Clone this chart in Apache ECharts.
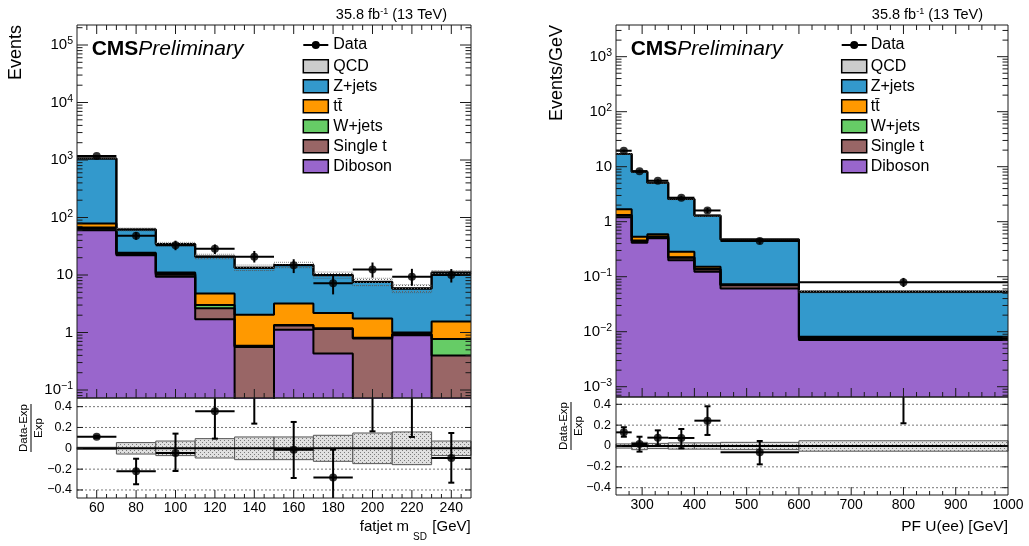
<!DOCTYPE html>
<html>
<head>
<meta charset="utf-8">
<title>CMS Preliminary</title>
<script src="https://cdn.jsdelivr.net/npm/echarts@6.0.0/dist/echarts.min.js"></script>
<style>
html,body{margin:0;padding:0;background:#ffffff;}
#chart{width:1029px;height:546px;}
</style>
</head>
<body>
<div id="chart"></div>
<script>
// ===================== DATA =====================
// ---- left panel: fatjet m_SD ----
const msdEdges   = [50, 70, 90, 110, 130, 150, 170, 190, 210, 230, 250];
const msdDiboson = [60, 22, 9.3, 1.7, 0.03, 1.12, 0.43, 0.02, 0.9, 0.02];
const msdSingleT = [4, 1.0, 0.8, 0.95, 0.53, 0.2, 0.72, 0.77, 0.03, 0.38];
const msdWjets   = [3, 0.6, 0.4, 0.37, 0.03, 0.03, 0.03, 0.02, 0.02, 0.37];
const msdTT      = [12, 0.8, 0.6, 1.75, 1.45, 1.85, 1.0, 0.95, 0.05, 0.79];
const msdZjets   = [985.5, 37.4, 23.3, 16.1, 11.3, 11.7, 7.7, 5.8, 4.78, 9.4];
const msdQCD     = [0.5, 0.2, 0.1, 0.13, 0.09, 0.1, 0.12, 0.09, 0.08, 0.14];
const msdData    = [1180, 48.4, 33, 28.5, 20.8, 14.8, 7.2, 12.5, 9.35, 10.0];
const msdDataLo  = [1150, 41, 27, 23.2, 16.5, 10.8, 4.6, 9.0, 6.5, 7.4];
const msdDataHi  = [1210, 56, 39.5, 34, 26.2, 18.8, 9.9, 16.5, 12.8, 12.7];
const msdUnc     = [0.01, 0.055, 0.07, 0.093, 0.109, 0.109, 0.125, 0.147, 0.157, 0.07];
const msdRatio   = [0.11, -0.22, -0.045, 0.355, 0.55, -0.013, -0.28, 0.64, 0.59, -0.093];
const msdRatioLo = [0.10, -0.345, -0.218, 0.093, 0.237, -0.285, -0.55, 0.163, 0.109, -0.33];
const msdRatioHi = [0.12, -0.10, 0.141, 0.62, 0.86, 0.253, -0.013, 1.1, 1.05, 0.147];

// ---- right panel: PF U(ee) ----
const uEdges   = [250, 280, 310, 350, 400, 450, 600, 1000];
const uDiboson = [1.2, 0.415, 0.5, 0.2, 0.123, 0.061, 0.00706];
const uSingleT = [0.11, 0.03, 0.03, 0.02, 0.012, 0.009, 0.0005];
const uWjets   = [0.02, 0.01, 0.01, 0.005, 0.003, 0.001, 0.0002];
const uTT      = [0.35, 0.078, 0.05, 0.06, 0.014, 0.002, 0.0003];
const uZjets   = [15.3, 7.56, 4.52, 2.3, 1.135, 0.4, 0.0452];
const uQCD     = [0.02, 0.01, 0.01, 0.005, 0.003, 0.001, 0.0001];
const uData    = [19.5, 8.3, 5.56, 2.73, 1.6, 0.446, 0.079];
const uDataLo  = [18.6, 7.75, 5.2, 2.5, 1.43, 0.39, 0.065];
const uDataHi  = [20.4, 8.85, 5.92, 2.96, 1.78, 0.5, 0.095];
const uUnc     = [0.02, 0.035, 0.025, 0.03, 0.03, 0.035, 0.05];
const uRatio   = [0.131, 0.019, 0.08, 0.077, 0.243, -0.061, 0.48];
const uRatioLo = [0.089, -0.054, 0.007, -0.022, 0.106, -0.176, 0.218];
const uRatioHi = [0.18, 0.089, 0.15, 0.163, 0.381, 0.048, 0.75];

// ---- tick labels ----
const msdTickLabels   = [60, 80, 100, 120, 140, 160, 180, 200, 220, 240];
const uTickLabels     = [300, 400, 500, 600, 700, 800, 900, 1000];
const msdLogLabels    = [-1, 0, 1, 2, 3, 4, 5];      // powers of ten
const uLogLabels      = [-3, -2, -1, 0, 1, 2, 3];
const ratioTickLabels = [-0.4, -0.2, 0, 0.2, 0.4];
const legendNames     = ['Data', 'QCD', 'Z+jets', 't\u0074\u0304', 'W+jets', 'Single t', 'Diboson'];

// ===================== STYLE =====================
const FONT = '"Liberation Sans", Arial, Helvetica, sans-serif';
const COL = {QCD:'#cccccc', Z:'#3399cc', TT:'#ff9900', W:'#66cc66', ST:'#996666', DB:'#9966cc'};
const legendColors = [null, COL.QCD, COL.Z, COL.TT, COL.W, COL.ST, COL.DB];

function makePattern(bg, dot, size, pts) {
  const c = document.createElement('canvas');
  c.width = size; c.height = size;
  const g = c.getContext('2d');
  if (bg) { g.fillStyle = bg; g.fillRect(0, 0, size, size); }
  g.fillStyle = dot;
  pts.forEach(p => g.fillRect(p[0], p[1], 1, 1));
  return {image: c, repeat: 'repeat'};
}
const ratioPattern = makePattern('#e0e0e0', '#7a7a7a', 4, [[0,0],[2,2]]);
const mainPattern  = makePattern(null, '#666666', 3, [[0,0]]);

function range(a, b, s) { const r = []; for (let v = a; v <= b + 1e-9; v += s) r.push(+v.toFixed(6)); return r; }
function logMinors(lo, hi) {
  const r = [];
  for (let n = Math.floor(lo); n <= Math.ceil(hi); n++)
    for (let k = 2; k <= 9; k++) { const v = n + Math.log10(k); if (v > lo && v < hi) r.push(v); }
  return r;
}

// ===================== BUILDERS =====================
function errSeries(ai, rows, ymin, ymax, caps, z) {
  return {
    type: 'custom', xAxisIndex: ai, yAxisIndex: ai, z: z, silent: true, clip: false,
    data: rows, encode: {x: [0, 1], y: [3]},
    renderItem: (params, api) => {
      const xlo = api.value(0), xhi = api.value(1), xc = api.value(2);
      const y = api.value(3), ylo = api.value(4), yhi = api.value(5);
      const ch = [];
      const st = {stroke: '#000', lineWidth: 2};
      const L = (p, q) => ch.push({type: 'line', shape: {x1: p[0], y1: p[1], x2: q[0], y2: q[1]}, style: st});
      if (y >= ymin && y <= ymax) L(api.coord([xlo, y]), api.coord([xhi, y]));
      const lo = Math.max(ymin, ylo), hi = Math.min(ymax, yhi);
      if (hi > lo) {
        const p = api.coord([xc, lo]), q = api.coord([xc, hi]);
        L(p, q);
        if (caps) {
          if (ylo >= ymin) L([p[0] - 3, p[1]], [p[0] + 3, p[1]]);
          if (yhi <= ymax) L([q[0] - 3, q[1]], [q[0] + 3, q[1]]);
        }
      }
      return {type: 'group', children: ch};
    }
  };
}

function frameSeries(ai, F) {
  return {
    type: 'custom', xAxisIndex: ai, yAxisIndex: ai, z: 20, silent: true, clip: false,
    data: [[F.xmin, F.ymin]],
    renderItem: (params, api) => {
      const bl = api.coord([F.xmin, F.ymin]), tr = api.coord([F.xmax, F.ymax]);
      const Lx = bl[0], B = bl[1], R = tr[0], T = tr[1];
      const ch = [];
      const st = {stroke: '#1a1a1a', lineWidth: 1};
      const ln = (x1, y1, x2, y2) => ch.push({type: 'line', shape: {x1, y1, x2, y2}, style: st});
      ln(Lx, T, R, T); ln(Lx, B, R, B); ln(Lx, T, Lx, B); ln(R, T, R, B);
      const xt = (vals, len) => vals.forEach(v => {
        const x = api.coord([v, F.ymin])[0];
        if (F.bottom) ln(x, B, x, B - len);
        if (F.top) ln(x, T, x, T + len);
      });
      const yt = (vals, len) => vals.forEach(v => {
        const y = api.coord([F.xmin, v])[1];
        ln(Lx, y, Lx + len, y); ln(R, y, R - len, y);
      });
      xt(F.xMajor, F.xMajLen); xt(F.xMinor, F.xMinLen);
      yt(F.yMajor, F.yMajLen); yt(F.yMinor, F.yMinLen);
      return {type: 'group', children: ch};
    }
  };
}

function ratioGridSeries(ai, xmin, xmax, lines) {
  return {
    type: 'custom', xAxisIndex: ai, yAxisIndex: ai, z: 3, silent: true, clip: false,
    data: [[xmin, 0]],
    renderItem: (params, api) => {
      const ch = [];
      lines.forEach(v => {
        const p = api.coord([xmin, v]), q = api.coord([xmax, v]);
        const zero = Math.abs(v) < 1e-9;
        ch.push({type: 'line', shape: {x1: p[0], y1: p[1], x2: q[0], y2: q[1]},
          style: zero ? {stroke: '#000', lineWidth: 2} : {stroke: '#777', lineWidth: 1, lineDash: [2, 2]}});
      });
      return {type: 'group', children: ch};
    }
  };
}

function buildPanel(P) {
  const series = [];
  const nb = P.edges.length - 1;
  const comps = [
    {name: 'Diboson', v: P.diboson, c: COL.DB},
    {name: 'Single t', v: P.singleT, c: COL.ST},
    {name: 'W+jets', v: P.wjets, c: COL.W},
    {name: 'ttbar', v: P.tt, c: COL.TT},
    {name: 'Z+jets', v: P.zjets, c: COL.Z},
    {name: 'QCD', v: P.qcd, c: COL.QCD}
  ];
  const cum = [];
  let run = new Array(nb).fill(0);
  comps.forEach(cp => { run = run.map((r, i) => r + cp.v[i]); cum.push(run.slice()); });
  const total = cum[cum.length - 1];
  const toLog = v => v > 0 ? Math.log10(v) : P.ymin - 3;
  const centers = P.edges.slice(0, -1).map((e, i) => (e + P.edges[i + 1]) / 2);

  for (let k = comps.length - 1; k >= 0; k--) {
    const d = [];
    for (let i = 0; i < nb; i++) d.push([P.edges[i], toLog(cum[k][i])]);
    d.push([P.edges[nb], toLog(cum[k][nb - 1])]);
    series.push({
      type: 'line', name: comps[k].name, xAxisIndex: P.mi, yAxisIndex: P.mi,
      data: d, step: 'end', symbol: 'none', showSymbol: false, clip: true, silent: true, z: 2,
      lineStyle: {color: '#000', width: 2},
      areaStyle: {color: comps[k].c, opacity: 1, origin: 'start'}
    });
  }
  // stat. uncertainty band on the total
  const band = total.map((t, i) => [P.edges[i], P.edges[i + 1], toLog(t * (1 - P.unc[i])), toLog(t * (1 + P.unc[i]))]);
  series.push({
    type: 'custom', xAxisIndex: P.mi, yAxisIndex: P.mi, z: 3, silent: true, data: band, encode: {x: [0, 1], y: [2, 3]},
    renderItem: (params, api) => {
      const a = api.coord([api.value(0), api.value(3)]), b = api.coord([api.value(1), api.value(2)]);
      return {type: 'rect', shape: {x: a[0], y: a[1], width: b[0] - a[0], height: b[1] - a[1]},
        style: {fill: mainPattern, stroke: 'rgba(80,80,80,0.7)', lineWidth: 1, lineDash: [1, 1]}};
    }
  });
  // data
  const rows = P.data.map((v, i) => [P.edges[i], P.edges[i + 1], centers[i], toLog(v), toLog(P.dataLo[i]), toLog(P.dataHi[i])]);
  series.push(errSeries(P.mi, rows, P.ymin, P.ymax, false, 5));
  series.push({type: 'scatter', xAxisIndex: P.mi, yAxisIndex: P.mi, z: 6, silent: true, clip: true,
    symbol: 'circle', symbolSize: 8, itemStyle: {color: '#000'},
    data: P.data.map((v, i) => [centers[i], toLog(v)])});
  series.push(frameSeries(P.mi, {xmin: P.xmin, xmax: P.xmax, ymin: P.ymin, ymax: P.ymax, top: true, bottom: true,
    xMajor: P.xMajor, xMinor: P.xMinor, xMajLen: 9, xMinLen: 5,
    yMajor: P.logLabels, yMinor: logMinors(P.ymin, P.ymax), yMajLen: 11, yMinLen: 5.5}));

  // ratio pad
  const rband = P.unc.map((u, i) => [P.edges[i], P.edges[i + 1], -u, u]);
  series.push({
    type: 'custom', xAxisIndex: P.ri, yAxisIndex: P.ri, z: 2, silent: true, data: rband, encode: {x: [0, 1], y: [2, 3]},
    renderItem: (params, api) => {
      const a = api.coord([api.value(0), api.value(3)]), b = api.coord([api.value(1), api.value(2)]);
      return {type: 'rect', shape: {x: a[0], y: a[1], width: b[0] - a[0], height: Math.max(1, b[1] - a[1])},
        style: {fill: ratioPattern, stroke: '#555', lineWidth: 1}};
    }
  });
  series.push(ratioGridSeries(P.ri, P.xmin, P.xmax, P.ratioLabels));
  const rrows = P.ratio.map((v, i) => [P.edges[i], P.edges[i + 1], centers[i], v, P.ratioLo[i], P.ratioHi[i]]);
  series.push(errSeries(P.ri, rrows, P.rmin, P.rmax, true, 5));
  series.push({type: 'scatter', xAxisIndex: P.ri, yAxisIndex: P.ri, z: 6, silent: true, clip: true,
    symbol: 'circle', symbolSize: 8, itemStyle: {color: '#000'},
    data: P.ratio.map((v, i) => [centers[i], v])});
  series.push(frameSeries(P.ri, {xmin: P.xmin, xmax: P.xmax, ymin: P.rmin, ymax: P.rmax, top: false, bottom: true,
    xMajor: P.xMajor, xMinor: P.xMinor, xMajLen: 8, xMinLen: 4,
    yMajor: P.ratioLabels, yMinor: [], yMajLen: 6, yMinLen: 3}));
  return series;
}

// ===================== AXES =====================
function logFmt(v) {
  const n = Math.round(v);
  if (n === 0) return '{b|1}';
  if (n === 1) return '{b|10}';
  return '{b|10}{s|' + (n < 0 ? '\u2212' : '') + Math.abs(n) + '}';
}
function ratioFmt(v) {
  if (Math.abs(v) < 1e-9) return '0';
  return (v < 0 ? '\u2212' : '') + Math.abs(v).toFixed(1);
}
const baseAx = {type: 'value', axisLine: {show: false}, axisTick: {show: false}, splitLine: {show: false}};
function xAx(gi, min, max, labels) {
  return Object.assign({}, baseAx, {gridIndex: gi, min, max, position: 'bottom',
    axisLabel: labels ? {show: true, customValues: labels, fontSize: 14, color: '#000', margin: 3, fontFamily: FONT,
      formatter: v => String(v)} : {show: false}});
}
function yLogAx(gi, min, max, labels) {
  return Object.assign({}, baseAx, {gridIndex: gi, min, max, position: 'left',
    axisLabel: {show: true, customValues: labels, color: '#000', margin: 4, fontFamily: FONT, formatter: logFmt,
      rich: {b: {fontSize: 15, lineHeight: 18, fontFamily: FONT, color: '#000'},
             s: {fontSize: 10.5, lineHeight: 11, verticalAlign: 'top', fontFamily: FONT, color: '#000'}}}});
}
function yRatioAx(gi, min, max, labels) {
  return Object.assign({}, baseAx, {gridIndex: gi, min, max, position: 'left',
    axisLabel: {show: true, customValues: labels, fontSize: 12.5, color: '#000', margin: 5, fontFamily: FONT, formatter: ratioFmt}});
}

// ===================== PANELS =====================
const LP = {
  mi: 0, ri: 1, edges: msdEdges, xmin: 50, xmax: 250, ymin: -1.139, ymax: 5.348, rmin: -0.477, rmax: 0.483,
  diboson: msdDiboson, singleT: msdSingleT, wjets: msdWjets, tt: msdTT, zjets: msdZjets, qcd: msdQCD,
  data: msdData, dataLo: msdDataLo, dataHi: msdDataHi, unc: msdUnc,
  ratio: msdRatio, ratioLo: msdRatioLo, ratioHi: msdRatioHi,
  xMajor: msdTickLabels, xMinor: range(55, 245, 5).filter(v => v % 20 !== 0),
  logLabels: msdLogLabels, ratioLabels: ratioTickLabels
};
const RP = {
  mi: 2, ri: 3, edges: uEdges, xmin: 250, xmax: 1000, ymin: -3.187, ymax: 3.576, rmin: -0.47, rmax: 0.47,
  diboson: uDiboson, singleT: uSingleT, wjets: uWjets, tt: uTT, zjets: uZjets, qcd: uQCD,
  data: uData, dataLo: uDataLo, dataHi: uDataHi, unc: uUnc,
  ratio: uRatio, ratioLo: uRatioLo, ratioHi: uRatioHi,
  xMajor: uTickLabels.filter(v => v < 1000), xMinor: range(275, 975, 25).filter(v => v % 100 !== 0),
  logLabels: uLogLabels, ratioLabels: ratioTickLabels
};

// ===================== GRAPHIC (texts / legend) =====================
function legend(bx, tx) {
  const els = [];
  const rowY = [45, 66.3, 86.3, 106.3, 126.3, 146.3, 166.3];
  legendNames.forEach((name, i) => {
    const y = rowY[i];
    if (i === 0) {
      els.push({type: 'line', shape: {x1: bx, y1: y, x2: bx + 25, y2: y}, style: {stroke: '#000', lineWidth: 2}});
      els.push({type: 'circle', shape: {cx: bx + 12.5, cy: y, r: 4}, style: {fill: '#000'}});
    } else {
      els.push({type: 'rect', shape: {x: bx, y: y - 6.5, width: 25, height: 13}, style: {fill: legendColors[i], stroke: '#000', lineWidth: 1.5}});
    }
    els.push({type: 'text', x: tx, y: y, style: {text: name, fontSize: 16, fontFamily: FONT, fill: '#000', align: 'left', verticalAlign: 'middle'}});
  });
  return els;
}
function cmsText(x) {
  return {type: 'text', x: x, y: 49, style: {text: '{b|CMS}{i|Preliminary}', fontFamily: FONT, verticalAlign: 'middle', align: 'left',
    rich: {b: {fontSize: 21, fontWeight: 'bold', fontFamily: FONT, fill: '#000'}, i: {fontSize: 21, fontStyle: 'italic', fontFamily: FONT, fill: '#000'}}}};
}
function lumiText(xr) {
  return {type: 'text', x: xr, y: 15, style: {text: '{a|35.8 fb}{s|-1}{a| (13 TeV)}', align: 'right', verticalAlign: 'middle',
    rich: {a: {fontSize: 14.5, lineHeight: 16, fontFamily: FONT, fill: '#000'}, s: {fontSize: 9, lineHeight: 9, verticalAlign: 'top', fontFamily: FONT, fill: '#000'}}}};
}
function yTitle(x, text) {
  return {type: 'text', x: x, y: 25, rotation: Math.PI / 2,
    style: {text: text, fontSize: 18, fontFamily: FONT, fill: '#000', align: 'right', verticalAlign: 'middle'}};
}
function ratioTitle(x, y) {
  return {type: 'group', x: x, y: y, rotation: Math.PI / 2, children: [
    {type: 'text', x: 0, y: -1.5, style: {text: 'Data-Exp', fontSize: 11.5, fontFamily: FONT, fill: '#000', align: 'center', verticalAlign: 'bottom'}},
    {type: 'line', shape: {x1: -24, y1: 0, x2: 24, y2: 0}, style: {stroke: '#000', lineWidth: 1}},
    {type: 'text', x: 0, y: 1.5, style: {text: 'Exp', fontSize: 11.5, fontFamily: FONT, fill: '#000', align: 'center', verticalAlign: 'top'}}
  ]};
}
const graphics = [].concat(
  legend(303.3, 333.3), legend(841.7, 870.7),
  [cmsText(91.7), cmsText(630.7), lumiText(447), lumiText(983),
   yTitle(16, 'Events'), yTitle(556.7, 'Events/GeV'),
   ratioTitle(31, 428), ratioTitle(571, 426),
   {type: 'text', x: 409, y: 527, style: {text: 'fatjet m', fontSize: 15, fontFamily: FONT, fill: '#000', align: 'right', verticalAlign: 'middle'}},
   {type: 'text', x: 413, y: 537, style: {text: 'SD', fontSize: 10, fontFamily: FONT, fill: '#000', align: 'left', verticalAlign: 'middle'}},
   {type: 'text', x: 470.7, y: 527, style: {text: '[GeV]', fontSize: 15, fontFamily: FONT, fill: '#000', align: 'right', verticalAlign: 'middle'}},
   {type: 'text', x: 1008, y: 527, style: {text: 'PF U(ee) [GeV]', fontSize: 15.5, fontFamily: FONT, fill: '#000', align: 'right', verticalAlign: 'middle'}}
  ]
);

// ===================== OPTION =====================
const option = {
  animation: false,
  backgroundColor: '#ffffff',
  textStyle: {fontFamily: FONT},
  grid: [
    {left: 77, top: 25, width: 394, height: 373, containLabel: false, outerBoundsMode: 'none'},
    {left: 77, top: 398, width: 394, height: 100, containLabel: false, outerBoundsMode: 'none'},
    {left: 616, top: 25, width: 392, height: 372, containLabel: false, outerBoundsMode: 'none'},
    {left: 616, top: 397, width: 392, height: 98, containLabel: false, outerBoundsMode: 'none'}
  ],
  xAxis: [
    xAx(0, LP.xmin, LP.xmax, null),
    xAx(1, LP.xmin, LP.xmax, msdTickLabels),
    xAx(2, RP.xmin, RP.xmax, null),
    xAx(3, RP.xmin, RP.xmax, uTickLabels)
  ],
  yAxis: [
    yLogAx(0, LP.ymin, LP.ymax, msdLogLabels),
    yRatioAx(1, LP.rmin, LP.rmax, ratioTickLabels),
    yLogAx(2, RP.ymin, RP.ymax, uLogLabels),
    yRatioAx(3, RP.rmin, RP.rmax, ratioTickLabels)
  ],
  series: [].concat(buildPanel(LP), buildPanel(RP)),
  graphic: graphics
};

const chart = echarts.init(document.getElementById('chart'), null, {renderer: 'canvas'});
chart.setOption(option);
</script>
</body>
</html>
